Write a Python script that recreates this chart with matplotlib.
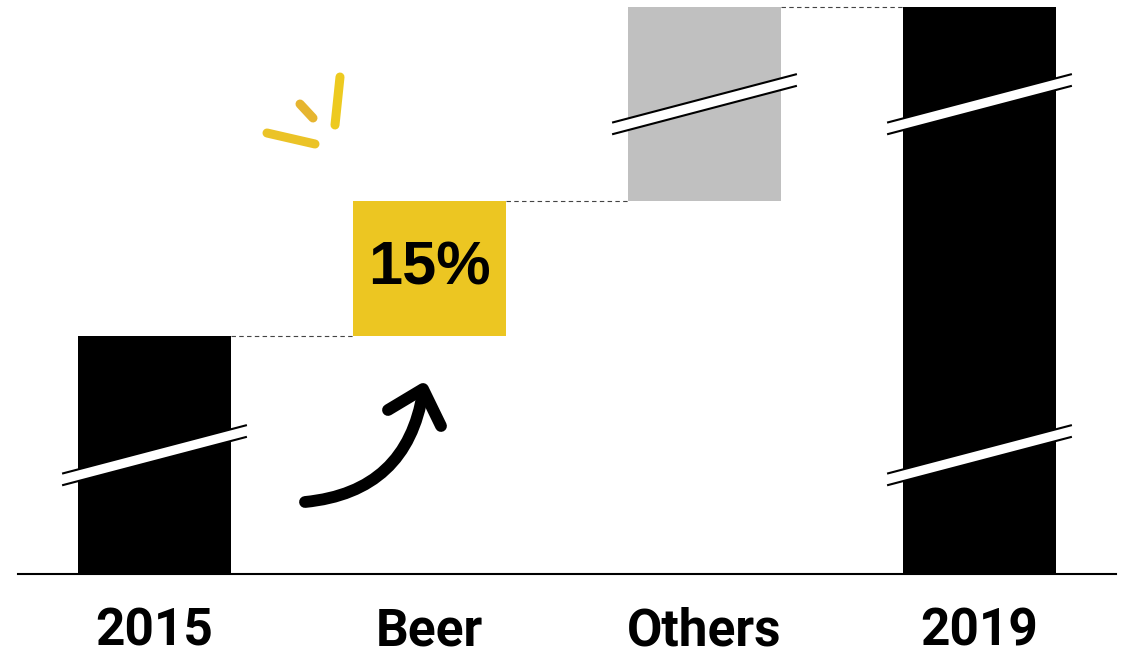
import matplotlib.pyplot as plt
from matplotlib.patches import Polygon, PathPatch
from matplotlib.path import Path

# waterfall values (axis is broken, so these are display units)
categories = ["2015", "Beer", "Others", "2019"]
start_value = 26.4
beer_growth = 15
others_growth = 21.6
end_value = start_value + beer_growth + others_growth
growth_label = "15%"

bottoms = [0, start_value, start_value + beer_growth, 0]
heights = [start_value, beer_growth, others_growth, end_value]
colors = ["#000000", "#ECC622", "#C0C0C0", "#000000"]

W, H = 1127, 649
fig = plt.figure(figsize=(W / 100, H / 100), dpi=100)
ax = fig.add_axes([18 / W, (H - 574) / H, 1098 / W, 574 / H])

bar_w = 0.556
x = list(range(len(categories)))
ax.bar(x, heights, bottom=bottoms, width=bar_w, color=colors, zorder=2)

ax.set_xlim(-0.4964, 3.4964)
ax.set_ylim(0, 574 / 9)

# dashed connectors between bar tops
tops = [b + h for b, h in zip(bottoms, heights)]
for i in range(len(categories) - 1):
    ax.plot([i + bar_w / 2, i + 1 - bar_w / 2], [tops[i], tops[i]], color="#444444",
            lw=0.8, ls=(0, (4, 3)), zorder=1)

# axis break marks: white band with two thin black edges
def break_mark(xc, yc, half=0.336, rise=5.39, gap=1.3):
    x0, x1 = xc - half, xc + half
    y0, y1 = yc - rise / 2, yc + rise / 2
    band = Polygon([(x0, y0 + gap / 2), (x1, y1 + gap / 2),
                    (x1, y1 - gap / 2), (x0, y0 - gap / 2)],
                   closed=True, facecolor="white", edgecolor="none", zorder=3)
    ax.add_patch(band)
    for s in (1, -1):
        ax.plot([x0, x1], [y0 + s * gap / 2, y1 + s * gap / 2],
                color="black", lw=1.5, solid_capstyle="butt", zorder=4)

low_break = start_value / 2
high_break = bottoms[2] + others_growth / 2
break_mark(0, low_break)
break_mark(2, high_break)
break_mark(3, low_break)
break_mark(3, high_break)

# label inside the beer bar
ax.text(1, bottoms[1] + beer_growth / 2, growth_label, ha="center", va="center",
        fontsize=44, fontweight="bold", family="Liberation Sans", zorder=5)

# axis styling
for side in ("top", "right", "left"):
    ax.spines[side].set_visible(False)
ax.spines["bottom"].set_linewidth(1.5)
ax.spines["bottom"].set_zorder(6)
ax.set_yticks([])
ax.set_xticks([])

# category names under the baseline
for xi, name in zip(x, categories):
    ax.text(xi, -71 / 574, name, transform=ax.get_xaxis_transform(),
            ha="center", va="baseline", fontsize=37, fontweight="bold",
            family="Roboto")


def px(a, b):
    return (a / W, 1 - b / H)


# curved arrow pointing up at the growth bar
curve = Path([px(305, 502), px(407, 492), px(423, 392)],
             [Path.MOVETO, Path.CURVE3, Path.CURVE3])
fig.patches.append(PathPatch(curve, transform=fig.transFigure, fill=False,
                             lw=8.5, edgecolor="black", capstyle="round"))
head = Path([px(388, 410), px(423, 389), px(441, 426)],
            [Path.MOVETO, Path.LINETO, Path.LINETO])
fig.patches.append(PathPatch(head, transform=fig.transFigure, fill=False,
                             lw=8.5, edgecolor="black", capstyle="round",
                             joinstyle="round"))

# little sparkle strokes
sparks = [((267, 133), (315, 144), "#EBC327"),
          ((300, 104), (313, 118), "#E6B530"),
          ((340, 77), (335, 125), "#EDCA20")]
for (ax0, ay0), (ax1, ay1), c in sparks:
    fig.add_artist(plt.Line2D([ax0 / W, ax1 / W], [1 - ay0 / H, 1 - ay1 / H],
                              transform=fig.transFigure, color=c, lw=6.5,
                              solid_capstyle="round"))

fig.savefig("out.png", dpi=100)
